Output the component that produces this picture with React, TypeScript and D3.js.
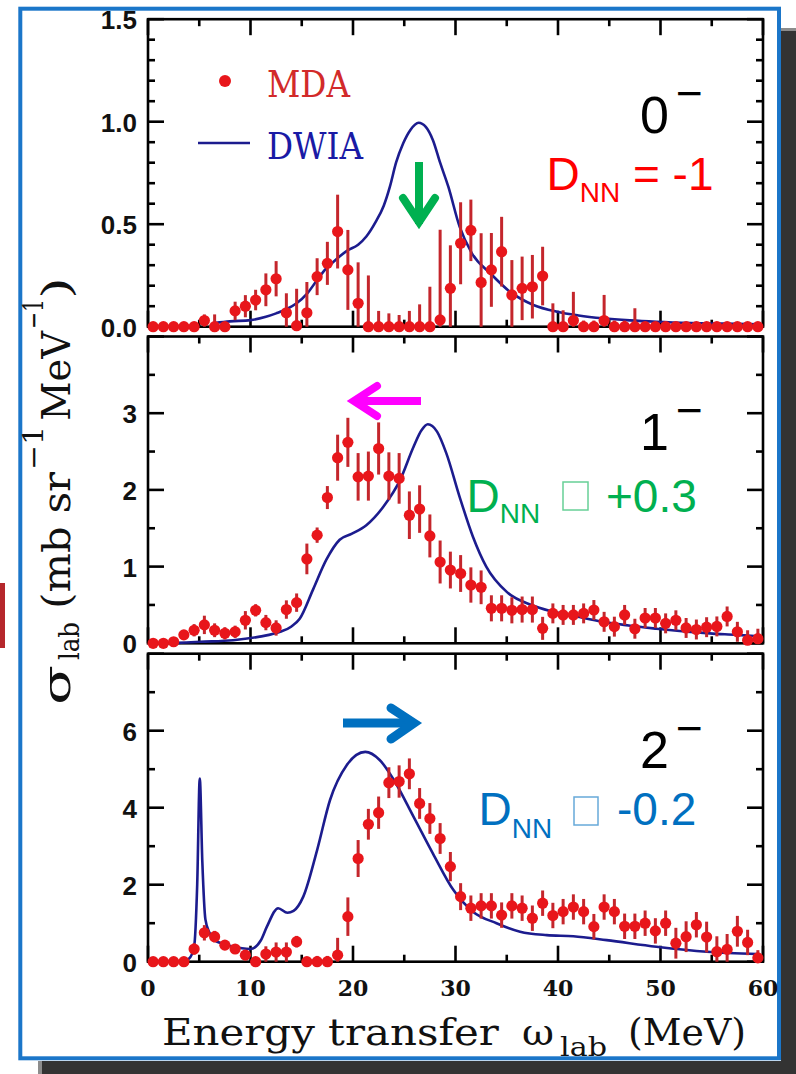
import React from 'react';
import * as d3 from 'd3';

// Bin centres of the energy-transfer spectrum (MeV)
const energy = [
  0.5, 1.5, 2.5, 3.5, 4.5, 5.5, 6.5, 7.5, 8.5, 9.5,
  10.5, 11.5, 12.5, 13.5, 14.5, 15.5, 16.5, 17.5, 18.5, 19.5,
  20.5, 21.5, 22.5, 23.5, 24.5, 25.5, 26.5, 27.5, 28.5, 29.5,
  30.5, 31.5, 32.5, 33.5, 34.5, 35.5, 36.5, 37.5, 38.5, 39.5,
  40.5, 41.5, 42.5, 43.5, 44.5, 45.5, 46.5, 47.5, 48.5, 49.5,
  50.5, 51.5, 52.5, 53.5, 54.5, 55.5, 56.5, 57.5, 58.5, 59.5,
];

// 0- multipole decomposition
const mda0 = [
  0, 0, 0, 0, 0, 0.03, 0, 0, 0.077, 0.1,
  0.13, 0.18, 0.234, 0.068, 0.005, 0.068, 0.244, 0.309, 0.464, 0.277,
  0.114, 0, 0, 0, 0, 0, 0, 0, 0.033, 0.187,
  0.407, 0.47, 0.216, 0.277, 0.366, 0.155, 0.187, 0.195, 0.247, 0,
  0, 0.03, 0, 0, 0.03, 0, 0, 0, 0, 0,
  0, 0, 0, 0, 0, 0, 0, 0, 0, 0,
];
const err0 = [
  0.01, 0.01, 0.01, 0.01, 0.01, 0.03, 0.06, 0.01, 0.045, 0.054,
  0.05, 0.08, 0.086, 0.095, 0.18, 0.15, 0.09, 0.105, 0.18, 0.195,
  0.2, 0.25, 0.077, 0.065, 0.057, 0.077, 0.109, 0.195, 0.44, 0.21,
  0.2, 0.15, 0.24, 0.18, 0.17, 0.17, 0.155, 0.155, 0.143, 0.114,
  0.08, 0.14, 0.03, 0.03, 0.125, 0.03, 0.03, 0.09, 0.02, 0.02,
  0.02, 0.02, 0.02, 0.02, 0.02, 0.02, 0.02, 0.02, 0.02, 0.02,
];
const dwia0 = [
  [6.5, 0.018], [8, 0.026], [10, 0.032], [11.5, 0.048], [12.5, 0.065], [13.5, 0.085],
  [14.5, 0.114], [15.5, 0.16], [16.5, 0.228], [17.3, 0.28], [18.1, 0.317], [19.4, 0.37],
  [20.5, 0.4], [21.3, 0.44], [22.2, 0.51], [23, 0.59], [23.6, 0.683], [24.2, 0.8],
  [24.9, 0.895], [25.6, 0.96], [26.4, 0.995], [27.1, 0.975], [27.8, 0.91], [28.5, 0.8],
  [29.3, 0.683], [30.4, 0.488], [31.6, 0.358], [33.4, 0.26], [35.3, 0.171], [37.6, 0.106],
  [39.9, 0.073], [42, 0.055], [44.4, 0.041], [47, 0.031], [49.6, 0.024], [53, 0.018],
  [56.1, 0.015], [59.7, 0.012],
];

// 1- multipole decomposition
const mda1 = [
  0, 0, 0.02, 0.11, 0.17, 0.24, 0.17, 0.13, 0.15, 0.3,
  0.43, 0.27, 0.2, 0.44, 0.53, 1.1, 1.41, 1.9, 2.42, 2.62,
  2.17, 2.18, 2.54, 2.18, 2.15, 1.67, 1.75, 1.4, 1.06, 0.955,
  0.91, 0.76, 0.73, 0.456, 0.456, 0.43, 0.44, 0.44, 0.195, 0.39,
  0.37, 0.37, 0.39, 0.434, 0.28, 0.217, 0.37, 0.19, 0.33, 0.33,
  0.26, 0.3, 0.2, 0.18, 0.21, 0.22, 0.35, 0.15, 0.04, 0.06,
];
const err1 = [
  0.03, 0.03, 0.03, 0.05, 0.08, 0.12, 0.09, 0.08, 0.08, 0.12,
  0.08, 0.1, 0.1, 0.12, 0.12, 0.2, 0.1, 0.15, 0.3, 0.32,
  0.31, 0.32, 0.34, 0.31, 0.33, 0.31, 0.31, 0.28, 0.28, 0.24,
  0.24, 0.23, 0.22, 0.17, 0.17, 0.17, 0.17, 0.17, 0.15, 0.13,
  0.13, 0.13, 0.13, 0.13, 0.13, 0.13, 0.13, 0.13, 0.13, 0.13,
  0.13, 0.13, 0.13, 0.13, 0.13, 0.13, 0.13, 0.13, 0.13, 0.13,
];
const dwia1 = [
  [2.8, 0.005], [5.1, 0.02], [8.3, 0.04], [10.9, 0.087], [12.9, 0.15], [14.0, 0.22],
  [14.8, 0.32], [16.1, 0.7], [17.4, 1.09], [18.7, 1.35], [19.9, 1.43], [21.3, 1.54],
  [22.96, 1.78], [24.6, 2.13], [25.9, 2.56], [26.7, 2.78], [27.3, 2.855], [28.2, 2.76],
  [29.1, 2.48], [30.4, 1.91], [31.7, 1.39], [33.0, 1.0], [35.0, 0.67], [37.4, 0.5],
  [39.3, 0.42], [41.8, 0.35], [44.4, 0.28], [49.6, 0.19], [54.8, 0.13], [57.4, 0.11],
  [59.7, 0.09],
];

// 2- multipole decomposition
const mda2 = [
  0, 0, 0, 0, 0.33, 0.75, 0.65, 0.43, 0.33, 0.17,
  0, 0.2, 0.25, 0.25, 0.52, 0, 0, 0, 0.17, 1.17,
  2.68, 3.57, 3.87, 4.65, 4.68, 4.88, 4.11, 3.72, 3.2, 2.47,
  1.69, 1.39, 1.45, 1.45, 1.21, 1.45, 1.39, 1.13, 1.52, 1.2,
  1.3, 1.42, 1.3, 0.91, 1.42, 1.3, 0.92, 0.92, 1.0, 0.8,
  1.0, 0.48, 0.65, 0.96, 0.64, 0.26, 0.32, 0.79, 0.5, 0.1,
];
const err2 = [
  0.05, 0.05, 0.05, 0.05, 0.15, 0.2, 0.15, 0.12, 0.12, 0.12,
  0.12, 0.2, 0.25, 0.25, 0.15, 0.1, 0.15, 0.15, 0.45, 0.5,
  0.48, 0.4, 0.42, 0.4, 0.42, 0.4, 0.4, 0.4, 0.4, 0.38,
  0.35, 0.33, 0.33, 0.33, 0.33, 0.33, 0.33, 0.33, 0.33, 0.33,
  0.33, 0.33, 0.33, 0.33, 0.33, 0.33, 0.33, 0.33, 0.33, 0.33,
  0.33, 0.4, 0.4, 0.33, 0.4, 0.4, 0.4, 0.4, 0.33, 0.2,
];
const dwia2 = [
  [3.0, 0.0], [4.0, 0.08], [4.5, 0.4], [4.8, 2.0], [5.05, 4.76], [5.3, 2.6],
  [5.6, 1.1], [6.0, 0.75], [6.5, 0.56], [8.2, 0.4], [10, 0.33], [11, 0.55],
  [11.6, 0.91], [12.7, 1.39], [13.6, 1.27], [14.2, 1.32], [15.15, 1.69], [16.5, 2.9],
  [17.76, 4.2], [19.4, 5.11], [21.2, 5.45], [22.6, 5.24], [23.9, 4.76], [25.9, 3.77],
  [27.8, 2.81], [29.8, 1.86], [31.7, 1.3], [34.0, 1.0], [36.3, 0.78], [38.9, 0.69],
  [41.5, 0.66], [44.75, 0.56], [49.6, 0.39], [54.5, 0.26], [59.5, 0.2],
];

// Axis tick labels
const xTickValues = [0, 10, 20, 30, 40, 50, 60];
const yLabelValues0 = [0, 0.5, 1.0, 1.5];
const yLabels0 = ['0.0', '0.5', '1.0', '1.5'];
const yLabelValues1 = [0, 1, 2, 3];
const yLabels1 = ['0', '1', '2', '3'];
const yLabelValues2 = [0, 2, 4, 6];
const yLabels2 = ['0', '2', '4', '6'];

const X0 = 148;
const X1 = 763;
const DOT = '#e8161b';
const BAR = '#c4262c';
const NAVY = '#1c1c8e';

const panels = [
  { domain: [0, 1.5], range: [326.7, 19.2], major: 0.5, minor: 0.1, lv: yLabelValues0, lt: yLabels0, values: mda0, errors: err0, curve: dwia0 },
  { domain: [0, 4], range: [643.3, 336.5], major: 1, minor: 0.5, lv: yLabelValues1, lt: yLabels1, values: mda1, errors: err1, curve: dwia1 },
  { domain: [0, 8], range: [961.7, 653.7], major: 2, minor: 1, lv: yLabelValues2, lt: yLabels2, values: mda2, errors: err2, curve: dwia2 },
];

function Panel({ p, x }: { p: any; x: d3.ScaleLinear<number, number> }) {
  const y = d3.scaleLinear().domain(p.domain).range(p.range);
  const [yB, yT] = p.range;
  const onStep = (v: number, step: number) => Math.abs(v / step - Math.round(v / step)) < 1e-6;
  const xTicks = d3.range(0, 60.001, 5);
  const yTicks = d3.range(p.domain[0], p.domain[1] + 1e-6, p.minor);
  const path = d3
    .line<number[]>()
    .x((d) => x(d[0]))
    .y((d) => y(d[1]))
    .curve(d3.curveMonotoneX)(p.curve);
  const MAJ = 16;
  const MIN = 7;
  return (
    <g>
      <rect x={X0} y={yT} width={X1 - X0} height={yB - yT} fill="none" stroke="#000" strokeWidth={2.6} />
      {xTicks.map((t) => {
        const len = onStep(t, 10) ? MAJ : MIN;
        return (
          <g key={'x' + t} stroke="#000" strokeWidth={2.6}>
            <line x1={x(t)} x2={x(t)} y1={yB} y2={yB - len} />
            <line x1={x(t)} x2={x(t)} y1={yT} y2={yT + len} />
          </g>
        );
      })}
      {yTicks.map((t) => {
        const len = onStep(t, p.major) ? MAJ : MIN;
        return (
          <g key={'y' + t} stroke="#000" strokeWidth={2.6}>
            <line x1={X0} x2={X0 + len} y1={y(t)} y2={y(t)} />
            <line x1={X1} x2={X1 - len} y1={y(t)} y2={y(t)} />
          </g>
        );
      })}
      {p.lv.map((v: number, i: number) => (
        <text key={'l' + v} x={137} y={y(v) + 10} textAnchor="end" fontFamily="'Liberation Sans', Arial, sans-serif" fontWeight="bold" fontSize={26} fill="#111">
          {p.lt[i]}
        </text>
      ))}
      <path d={path || ''} fill="none" stroke={NAVY} strokeWidth={2.6} />
      {energy.map((e, i) => {
        const v = p.values[i];
        const er = p.errors[i];
        const lo = Math.max(v - er, p.domain[0]);
        return (
          <line key={'e' + i} x1={x(e)} x2={x(e)} y1={y(lo)} y2={y(v + er)} stroke={BAR} strokeWidth={3} />
        );
      })}
      {energy.map((e, i) => (
        <circle key={'c' + i} cx={x(e)} cy={y(p.values[i])} r={5.6} fill={DOT} />
      ))}
    </g>
  );
}

export default function App() {
  const x = d3.scaleLinear().domain([0, 60]).range([X0, X1]);
  const serif = "'DejaVu Serif', serif";
  const sans = "'Liberation Sans', Arial, sans-serif";
  return (
    <svg width={796} height={1074} style={{ position: 'absolute', left: 0, top: 0, display: 'block', background: '#fff' }}>
      {/* page shadow and side marker */}
      <rect x={781} y={28} width={15} height={1046} fill="#333" />
      <rect x={781} y={28} width={15} height={3} fill="#8c8c8c" />
      <rect x={38} y={1061} width={758} height={13} fill="#333" />
      <rect x={38} y={1061} width={4} height={13} fill="#8c8c8c" />
      <rect x={0} y={583} width={5} height={65} fill="#b5272c" />
      <rect x={20.3} y={8.7} width={758.7} height={1049.6} fill="#fff" stroke="#1b76c9" strokeWidth={4} />

      {panels.map((p, i) => (
        <Panel key={i} p={p} x={x} />
      ))}

      {/* energy axis labels */}
      {xTickValues.map((t) => (
        <text key={'xt' + t} x={x(t)} y={996} textAnchor="middle" fontFamily={serif} fontWeight="bold" fontSize={22} fill="#111">
          {t}
        </text>
      ))}
      <text fontFamily={serif} fontSize={38} fill="#111">
        <tspan x={162} y={1045} textLength={350} lengthAdjust="spacingAndGlyphs">Energy transfer </tspan>
        <tspan x={522} y={1045} textLength={32} lengthAdjust="spacingAndGlyphs">ω</tspan>
        <tspan x={560} y={1056} fontSize={26} textLength={47} lengthAdjust="spacingAndGlyphs">lab</tspan>
        <tspan x={616} y={1045} textLength={130} lengthAdjust="spacingAndGlyphs"> (MeV)</tspan>
      </text>

      {/* cross-section axis title */}
      <text transform="translate(70,0) rotate(-90)" fontFamily={serif} fontSize={40} fill="#111">
        <tspan x={-705} y={0} textLength={40} lengthAdjust="spacingAndGlyphs">σ</tspan>
        <tspan x={-660} y={9} fontSize={28} textLength={38} lengthAdjust="spacingAndGlyphs">lab</tspan>
        <tspan x={-622} y={0} textLength={150} lengthAdjust="spacingAndGlyphs"> (mb sr</tspan>
        <tspan x={-470} y={-27} fontSize={28} textLength={44} lengthAdjust="spacingAndGlyphs">−1</tspan>
        <tspan x={-433} y={0} textLength={102} lengthAdjust="spacingAndGlyphs"> MeV</tspan>
        <tspan x={-329} y={-27} fontSize={28} textLength={30} lengthAdjust="spacingAndGlyphs">−1</tspan>
        <tspan x={-299} y={0} textLength={22} lengthAdjust="spacingAndGlyphs">)</tspan>
      </text>

      {/* legend */}
      <circle cx={225} cy={81} r={6} fill={DOT} />
      <text x={267} y={97} fontFamily={serif} fontSize={38} fill="#d22a2a" textLength={83} lengthAdjust="spacingAndGlyphs">MDA</text>
      <line x1={198} x2={250} y1={143} y2={143} stroke={NAVY} strokeWidth={2.6} />
      <text x={267} y={159} fontFamily={serif} fontSize={38} fill="#1a1aa5" textLength={96} lengthAdjust="spacingAndGlyphs">DWIA</text>

      {/* multipolarity labels */}
      <text fontFamily={sans} fontSize={52} fill="#000">
        <tspan x={640} y={133}>0</tspan>
        <tspan x={676} y={109} fontSize={46}>−</tspan>
      </text>
      <text fontFamily={sans} fontSize={52} fill="#000">
        <tspan x={640} y={450}>1</tspan>
        <tspan x={676} y={426} fontSize={46}>−</tspan>
      </text>
      <text fontFamily={sans} fontSize={52} fill="#000">
        <tspan x={640} y={768}>2</tspan>
        <tspan x={676} y={744} fontSize={46}>−</tspan>
      </text>

      {/* spin-flip annotations */}
      <text fontFamily={sans} fontSize={46} fill="#ff0000">
        <tspan x={546.5} y={190}>D</tspan>
        <tspan y={202} fontSize={28}>NN</tspan>
        <tspan y={190}> = -1</tspan>
      </text>
      <text fontFamily={sans} fontSize={46} fill="#00b050">
        <tspan x={466.5} y={512}>D</tspan>
        <tspan y={523} fontSize={28}>NN</tspan>
        <tspan x={606} y={512}>+0.3</tspan>
      </text>
      <rect x={563} y={482} width={25} height={28} fill="none" stroke="#00b050" strokeOpacity={0.6} strokeWidth={1.5} />
      <text fontFamily={sans} fontSize={46} fill="#0070c0">
        <tspan x={478.5} y={825}>D</tspan>
        <tspan y={838} fontSize={28}>NN</tspan>
        <tspan x={617} y={825}>-0.2</tspan>
      </text>
      <rect x={574} y={797} width={24} height={28} fill="none" stroke="#0070c0" strokeOpacity={0.6} strokeWidth={1.5} />

      {/* shift arrows */}
      <g stroke="#00b050" strokeWidth={8} fill="none">
        <path d="M419,162 V224" />
        <path d="M403,198 L419,222 L435,198" strokeLinejoin="miter" strokeLinecap="round" />
      </g>
      <g stroke="#ff00ff" strokeWidth={8} fill="none">
        <path d="M421,401 H356" />
        <path d="M377,386 L354,401 L377,416" strokeLinejoin="miter" strokeLinecap="round" />
      </g>
      <g stroke="#0070c0" strokeWidth={9} fill="none">
        <path d="M343,723 H412" />
        <path d="M391,708 L414,723 L391,739" strokeLinejoin="miter" strokeLinecap="round" />
      </g>
    </svg>
  );
}
